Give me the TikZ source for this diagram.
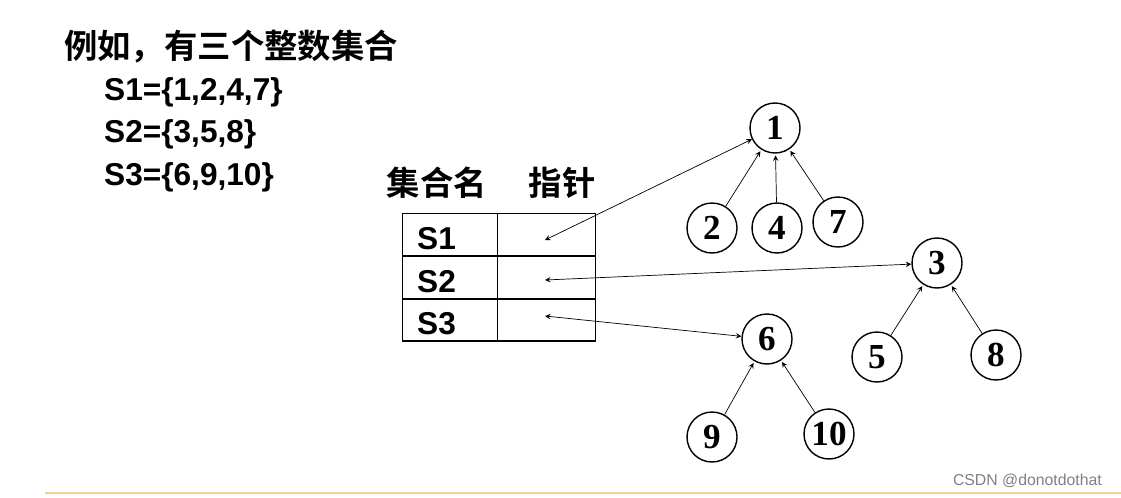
\documentclass[tikz,border=0pt]{standalone}
\usepackage{fontspec}
\setmainfont{Liberation Serif}
\newfontfamily\cjk{Noto Sans CJK SC}[BoldFont={Noto Sans CJK SC Bold}]
\newfontfamily\arialfont{Liberation Sans}
\usetikzlibrary{positioning}
\tikzset{
  elem/.style={circle,draw,thick,minimum size=1cm,inner sep=0pt,font=\fontsize{20}{22}\selectfont\bfseries},
  link/.style={->,>=stealth,thin,shorten >=1pt},
  ptr/.style={<->,>=stealth,thin},
  cell/.style={draw,thick,minimum width=1.9cm,minimum height=0.85cm,inner sep=0pt,anchor=north west}
}
\begin{document}
\begin{tikzpicture}[x=0.02cm,y=-0.02cm]
  \useasboundingbox (0,0) rectangle (1121,497);
  %% text at left
  \node[anchor=west,font=\cjk\fontsize{19}{22}\selectfont\bfseries] (title) at (58,47) {例如，有三个整数集合};
  \node[anchor=west,font=\arialfont\fontsize{18}{22}\selectfont\bfseries] (s1) at (98,92) {S1=\{1,2,4,7\}};
  \node[anchor=west,font=\arialfont\fontsize{18}{22}\selectfont\bfseries] (s2) at (98,134) {S2=\{3,5,8\}};
  \node[anchor=west,font=\arialfont\fontsize{18}{22}\selectfont\bfseries] (s3) at (98,177) {S3=\{6,9,10\}};
  %% table
  \node[font=\cjk\fontsize{19}{22}\selectfont\bfseries] (hname) at (437,183) {集合名};
  \node[font=\cjk\fontsize{19}{22}\selectfont\bfseries] (hptr) at (562,183) {指针};
  \node[cell,minimum width=1.9cm] (n1) at (402,213) {};
  \node[cell,minimum width=1.96cm] (p1) at (497,213) {};
  \node[cell,minimum width=1.9cm] (n2) at (402,256) {};
  \node[cell,minimum width=1.96cm] (p2) at (497,256) {};
  \node[cell,minimum width=1.9cm] (n3) at (402,298) {};
  \node[cell,minimum width=1.96cm] (p3) at (497,298) {};
  \foreach \i in {1,2,3}
    \node[anchor=west,font=\arialfont\fontsize{18}{20}\selectfont\bfseries] at ([xshift=0.18cm,yshift=-0.07cm]n\i.west) {S\i};
  \coordinate (a1) at (545,240);
  \coordinate (a2) at (545,280);
  \coordinate (a3) at (545,316);
  %% trees
  \node[elem] (e1) at (775,128) {1};
  \node[elem] (e2) at (712,228) {2};
  \node[elem] (e4) at (777,228) {4};
  \node[elem] (e7) at (838,222) {7};
  \node[elem] (e3) at (937,263) {3};
  \node[elem] (e5) at (877,357) {5};
  \node[elem] (e8) at (996,355) {8};
  \node[elem] (e6) at (767,339) {6};
  \node[elem] (e9) at (712,437) {9};
  \node[elem] (e10) at (829,434) {10};
  \foreach \c/\p in {e2/e1,e4/e1,e7/e1,e5/e3,e8/e3,e9/e6,e10/e6}
    \draw[link] (\c) -- (\p);
  %% pointers
  \draw[ptr] (a1) -- (e1);
  \draw[ptr] (a2) -- (e3);
  \draw[ptr] (a3) -- (e6);
  %% footer
  \draw[orange!40,line width=1.5pt] (45,493) -- (1121,493);
  \node[anchor=east,text=gray,font=\arialfont\fontsize{9}{11}\selectfont] (mark) at (1108,481) {CSDN @donotdothat};
\end{tikzpicture}
\end{document}
